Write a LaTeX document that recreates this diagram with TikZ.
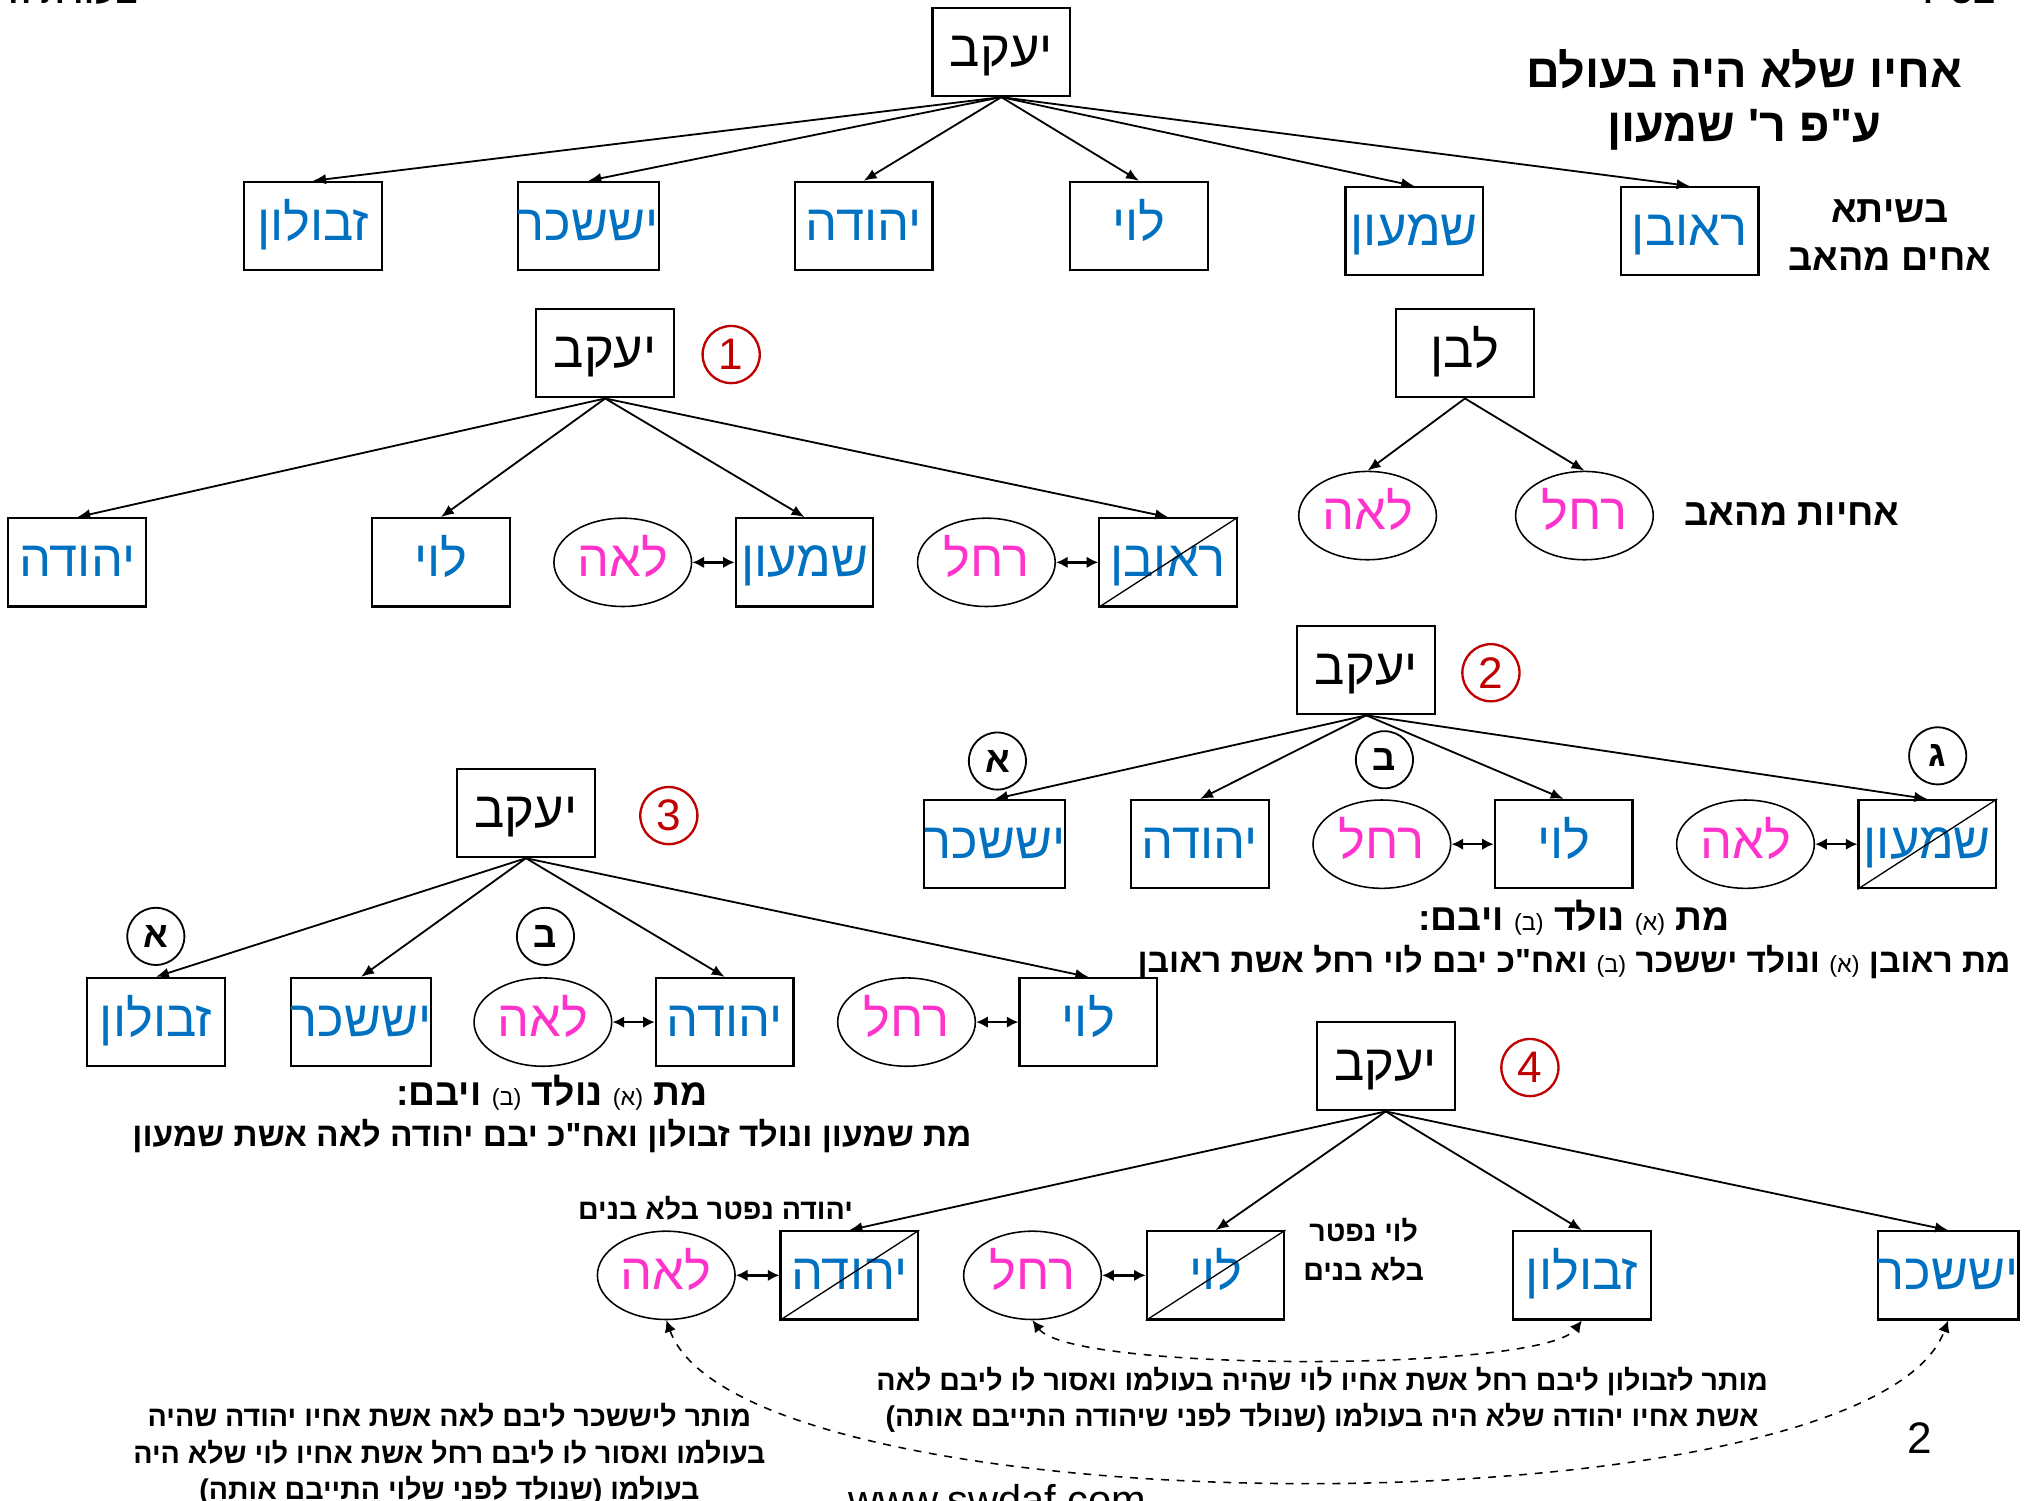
\documentclass[tikz,border=0pt]{standalone}
\usepackage{fontspec}
\setmainfont{Liberation Sans}
\newfontfamily\hebfont[Script=Hebrew]{Liberation Sans}
\TeXXeTstate=1
\usetikzlibrary{shapes.geometric,arrows.meta}

\definecolor{sonblue}{RGB}{0,112,192}
\definecolor{wifepink}{RGB}{255,51,204}
\definecolor{numred}{RGB}{192,0,0}

\newcommand{\heb}[1]{{\hebfont\beginR #1\endR}}
\newcommand{\smallmark}[1]{{\mdseries\fontsize{9}{10}\selectfont(#1)}}

\begin{document}
\begin{tikzpicture}[x=0.5pt,y=-0.5pt,
		edge from parent/.style={draw,-{Latex[length=5pt,width=4pt]},line width=0.7pt},
		edge from parent path={(\tikzparentnode.south) -- (\tikzchildnode.north)}]
	\tikzstyle{son}=[draw,line width=0.8pt,minimum width=53pt,minimum height=34pt,
		inner sep=0pt,text height=13pt,text depth=2pt,text=sonblue,font=\fontsize{19.5}{22}\selectfont]
	\tikzstyle{father}=[son,text=black]
	\tikzstyle{wife}=[draw,ellipse,line width=0.6pt,minimum width=53pt,minimum height=34pt,
		inner sep=0pt,text height=13pt,text depth=2pt,text=wifepink,font=\fontsize{19.5}{22}\selectfont]
	\tikzstyle{numcirc}=[draw=numred,circle,line width=0.9pt,minimum size=22pt,inner sep=0pt,
		text=numred,font=\fontsize{17}{20}\selectfont]
	\tikzstyle{lettercirc}=[draw,circle,line width=0.7pt,minimum size=22pt,inner sep=0pt,
		font=\bfseries\fontsize{14}{16}\selectfont]
	\tikzstyle{couple}=[{Latex[length=4.5pt,width=4.5pt]}-{Latex[length=4.5pt,width=4.5pt]},line width=0.9pt]
	\tikzstyle{label}=[font=\bfseries\fontsize{14.5}{18.5}\selectfont]
	\tikzstyle{rulehead}=[font=\bfseries\fontsize{14.4}{17}\selectfont]
	\tikzstyle{rule}=[font=\bfseries\fontsize{12.9}{15}\selectfont]
	\tikzstyle{note}=[font=\bfseries\fontsize{11}{14}\selectfont,align=center]
	\useasboundingbox (0,0) rectangle (1560,1155);

	% page edges
	\node[font=\bfseries\fontsize{13}{15}\selectfont,anchor=base] (hdrl) at (53,3) {\heb{בעזרת ה'}};
	\node[font=\bfseries\fontsize{13}{15}\selectfont,anchor=base] (hdrr) at (1505,3) {\heb{בס"ד}};
	\node[font=\fontsize{16}{18}\selectfont,anchor=base] (site) at (768,1166) {www.swdaf.com};
	\node[font=\fontsize{17}{20}\selectfont] (page) at (1478,1107) {2};

	% all the brothers
	\node[father] (jac) at (771,40) {\heb{יעקב}}
		[level distance=67pt,sibling distance=106pt]
		child {node[son] (zev) {\heb{זבולון}}}
		child {node[son] (yis) {\heb{יששכר}}}
		child {node[son] (yeh) {\heb{יהודה}}}
		child {node[son] (lev) {\heb{לוי}}}
		child {node[son,yshift=-2pt] (shi) {\heb{שמעון}}}
		child {node[son,yshift=-2pt] (reu) {\heb{ראובן}}};
	\node[font=\bfseries\fontsize{18}{22}\selectfont] (ttl1) at (1343,53) {\heb{אחיו שלא היה בעולם}};
	\node[font=\bfseries\fontsize{18}{22}\selectfont] (ttl2) at (1343,100) {\heb{ע"פ ר' שמעון}};
	\node[label,align=center] (six) at (1455,181) {\heb{בשיתא}\\\heb{אחים מהאב}};

	% laban
	\node[father] (lab) at (1128,272) {\heb{לבן}}
		[level distance=62.5pt,sibling distance=83.5pt,every child node/.style={xshift=4.25pt}]
		child {node[wife] (lablea) {\heb{לאה}}}
		child {node[wife] (labrac) {\heb{רחל}}};
	\node[label] (sis) at (1380,396) {\heb{אחיות מהאב}};

	% 1
	\node[father] (t1jac) at (466,272) {\heb{יעקב}}
		[level distance=80.5pt,sibling distance=70pt,every child node/.style={xshift=6.75pt}]
		child {node[son] (t1yeh) {\heb{יהודה}}}
		child[missing]
		child {node[son] (t1lev) {\heb{לוי}}}
		child {node[wife] (t1lea) {\heb{לאה}} edge from parent[draw=none]}
		child {node[son] (t1shi) {\heb{שמעון}}}
		child {node[wife] (t1rac) {\heb{רחל}} edge from parent[draw=none]}
		child {node[son] (t1reu) {\heb{ראובן}}};
	\node[numcirc] (n1) at (563,273) {1};
	\draw[couple] (t1lea) -- (t1shi);
	\draw[couple] (t1rac) -- (t1reu);
	\draw[line width=0.5pt] (t1reu.south west) -- (t1reu.north east);

	% 2
	\node[father] (t2jac) at (1052,516) {\heb{יעקב}}
		[level distance=67pt,sibling distance=70pt,every child node/.style={xshift=41pt}]
		child {node[son,xshift=-9pt] (t2yis) {\heb{יששכר}}}
		child {node[son] (t2yeh) {\heb{יהודה}}}
		child {node[wife] (t2rac) {\heb{רחל}} edge from parent[draw=none]}
		child {node[son] (t2lev) {\heb{לוי}}}
		child {node[wife] (t2lea) {\heb{לאה}} edge from parent[draw=none]}
		child {node[son] (t2shi) {\heb{שמעון}}};
	\node[numcirc] (n2) at (1148,518) {2};
	\node[lettercirc] (t2a) at (768,586) {\heb{א}};
	\node[lettercirc] (t2b) at (1066,585) {\heb{ב}};
	\node[lettercirc] (t2g) at (1492,582) {\heb{ג}};
	\draw[couple] (t2rac) -- (t2lev);
	\draw[couple] (t2lea) -- (t2shi);
	\draw[line width=0.5pt] (t2shi.south west) -- (t2shi.north east);
	\node[rulehead] (t2rule) at (1212,707) {\heb{מת \smallmark{א} נולד \smallmark{ב} ויבם:}};
	\node[rule] (t2text) at (1212,741) {\heb{מת ראובן \smallmark{א} ונולד יששכר \smallmark{ב} ואח"כ יבם לוי רחל אשת ראובן}};

	% 3
	\node[father] (t3jac) at (405,626) {\heb{יעקב}}
		[level distance=80.5pt,sibling distance=70pt,every child node/.style={xshift=41.5pt}]
		child {node[son,xshift=-9pt] (t3zev) {\heb{זבולון}}}
		child {node[son] (t3yis) {\heb{יששכר}}}
		child {node[wife] (t3lea) {\heb{לאה}} edge from parent[draw=none]}
		child {node[son] (t3yeh) {\heb{יהודה}}}
		child {node[wife] (t3rac) {\heb{רחל}} edge from parent[draw=none]}
		child {node[son] (t3lev) {\heb{לוי}}};
	\node[numcirc] (n3) at (515,628) {3};
	\node[lettercirc] (t3a) at (120,721) {\heb{א}};
	\node[lettercirc] (t3b) at (420,721) {\heb{ב}};
	\draw[couple] (t3lea) -- (t3yeh);
	\draw[couple] (t3rac) -- (t3lev);
	\node[rulehead] (t3rule) at (425,841) {\heb{מת \smallmark{א} נולד \smallmark{ב} ויבם:}};
	\node[rule] (t3text) at (425,875) {\heb{מת שמעון ונולד זבולון ואח"כ יבם יהודה לאה אשת שמעון}};

	% 4
	\node[father] (t4jac) at (1067,821) {\heb{יעקב}}
		[level distance=80.5pt,sibling distance=70.5pt,every child node/.style={xshift=-30.25pt}]
		child {node[wife] (t4lea) {\heb{לאה}} edge from parent[draw=none]}
		child {node[son] (t4yeh) {\heb{יהודה}}}
		child {node[wife] (t4rac) {\heb{רחל}} edge from parent[draw=none]}
		child {node[son] (t4lev) {\heb{לוי}}}
		child[missing]
		child {node[son] (t4zev) {\heb{זבולון}}}
		child[missing]
		child {node[son] (t4yis) {\heb{יששכר}}};
	\node[numcirc] (n4) at (1178,822) {4};
	\draw[couple] (t4lea) -- (t4yeh);
	\draw[couple] (t4rac) -- (t4lev);
	\draw[line width=0.5pt] (t4yeh.south west) -- (t4yeh.north east);
	\draw[line width=0.5pt] (t4lev.south west) -- (t4lev.north east);
	\node[note] (t4dead1) at (551,930) {\heb{יהודה נפטר בלא בנים}};
	\node[note,align=center] (t4dead2) at (1050,962) {\heb{לוי נפטר}\\[1pt]\heb{בלא בנים}};
	\draw[dashed,couple,line width=0.6pt] (t4rac.south) .. controls +(30,40) and +(-30,40) .. (t4zev.south);
	\draw[dashed,couple,line width=0.6pt] (t4lea.south) .. controls +(60,165) and +(-60,165) .. (t4yis.south);
	\node[note] (t4zevok) at (1018,1078) {\heb{מותר לזבולון ליבם רחל אשת אחיו לוי שהיה בעולמו ואסור לו ליבם לאה}\\
		\heb{אשת אחיו יהודה שלא היה בעולמו (שנולד לפני שיהודה התייבם אותה)}};
	\node[note] (t4yisok) at (346,1120) {\heb{מותר ליששכר ליבם לאה אשת אחיו יהודה שהיה}\\
		\heb{בעולמו ואסור לו ליבם רחל אשת אחיו לוי שלא היה}\\
		\heb{בעולמו (שנולד לפני שלוי התייבם אותה)}};
\end{tikzpicture}
\end{document}
